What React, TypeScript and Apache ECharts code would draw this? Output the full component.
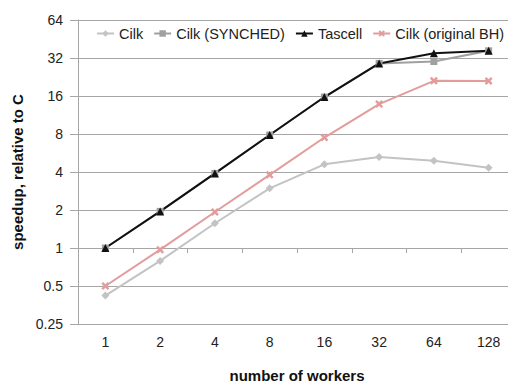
import React, { useEffect, useRef } from "react";
import * as echarts from "echarts";

const workers = ["1", "2", "4", "8", "16", "32", "64", "128"];
const cilk = [0.42, 0.79, 1.57, 2.97, 4.6, 5.25, 4.92, 4.33];
const cilkSynched = [1, 1.95, 3.9, 7.85, 15.7, 29, 30, 36.5];
const tascell = [1, 1.95, 3.9, 7.85, 15.7, 29, 34.9, 36.5];
const cilkOriginalBH = [0.5, 0.97, 1.93, 3.8, 7.5, 13.8, 21.1, 21];
const yMin = 0.25;
const yMax = 64;

const FONT = "'Liberation Sans', Arial, sans-serif";
const GRID = "#a6a6a6";
const X_PATH =
  "path://M0,2.2 L2.2,0 L5,2.8 L7.8,0 L10,2.2 L7.2,5 L10,7.8 L7.8,10 L5,7.2 L2.2,10 L0,7.8 L2.8,5 Z";

export default function App() {
  const ref = useRef<HTMLDivElement>(null);
  useEffect(() => {
    if (!ref.current) return;
    const chart = echarts.init(ref.current, undefined, { renderer: "svg" });
    const mk = (name: string, data: number[], color: string, symbol: string, size: number) => ({
      name,
      type: "line",
      data,
      xAxisIndex: 0,
      symbol,
      symbolSize: size,
      lineStyle: { color, width: 2 },
      itemStyle: { color },
      emphasis: { disabled: true },
    });
    chart.setOption({
      animation: false,
      textStyle: { fontFamily: FONT },
      grid: {
        left: 78,
        top: 20,
        right: -8,
        bottom: 61,
        containLabel: false,
        outerBoundsMode: "none",
      },
      legend: {
        left: 91,
        top: 21,
        width: 600,
        itemWidth: 17,
        itemHeight: 8,
        itemGap: 10,
        textStyle: { fontFamily: FONT, fontSize: 14.5, color: "#222" },
        data: ["Cilk", "Cilk (SYNCHED)", "Tascell", "Cilk (original BH)"],
      },
      xAxis: [
        {
          type: "category",
          data: workers,
          boundaryGap: true,
          position: "bottom",
          name: "number of workers",
          nameLocation: "middle",
          nameGap: 44,
          nameTextStyle: { fontFamily: FONT, fontSize: 15, fontWeight: "bold", color: "#111" },
          axisLine: { show: true, lineStyle: { color: GRID, width: 1 } },
          axisTick: { show: false },
          axisLabel: { fontFamily: FONT, fontSize: 14, color: "#222", margin: 11 },
          splitLine: { show: false },
        },
        {
          type: "category",
          data: workers,
          boundaryGap: true,
          position: "bottom",
          offset: -76,
          axisLine: { show: true, lineStyle: { color: GRID, width: 1 } },
          axisTick: { show: true, length: 5, lineStyle: { color: GRID } },
          axisLabel: { show: false },
          splitLine: { show: false },
        },
      ],
      yAxis: {
        type: "log",
        logBase: 2,
        min: yMin,
        max: yMax,
        name: "speedup, relative to C",
        nameLocation: "middle",
        nameGap: 44,
        nameTextStyle: { fontFamily: FONT, fontSize: 15, fontWeight: "bold", color: "#111" },
        axisLine: { show: true, lineStyle: { color: GRID, width: 1 } },
        axisTick: { show: true, length: 8, lineStyle: { color: GRID } },
        axisLabel: {
          fontFamily: FONT,
          fontSize: 14,
          color: "#222",
          margin: 15,
          formatter: (v: number) => String(Math.round(v * 100) / 100),
        },
        splitLine: { show: true, lineStyle: { color: GRID, width: 1 } },
      },
      series: [
        mk("Cilk", cilk, "#c3c3c3", "diamond", 8),
        mk("Cilk (SYNCHED)", cilkSynched, "#a0a0a0", "rect", 7),
        mk("Tascell", tascell, "#111111", "triangle", 8),
        mk("Cilk (original BH)", cilkOriginalBH, "#e39c9c", X_PATH, 8),
      ],
    });
    return () => chart.dispose();
  }, []);
  return <div ref={ref} style={{ width: 508, height: 385, position: "absolute", left: 0, top: 0 }} />;
}
